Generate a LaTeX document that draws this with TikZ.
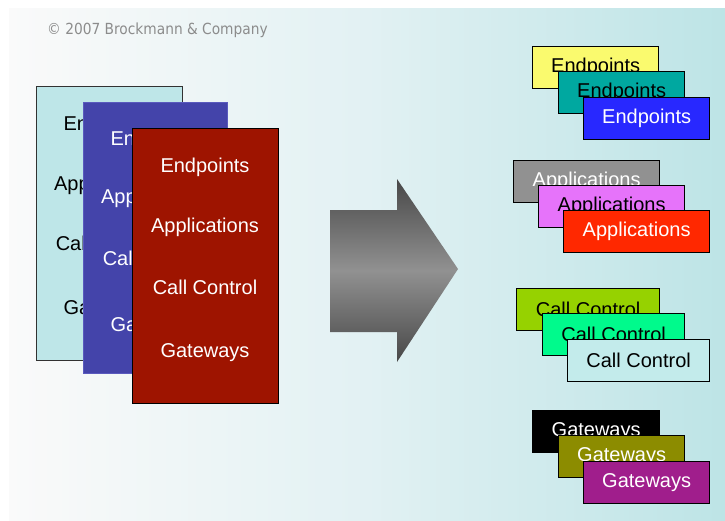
\documentclass[tikz,border=0pt]{standalone}
\usepackage{fontspec}
\setmainfont{Liberation Sans}
\newfontfamily\copyfont{DejaVu Sans Condensed}
\begin{document}
\begin{tikzpicture}[x=1pt,y=-1pt,
  bigbox/.style={rectangle,inner sep=0pt,anchor=north west,line width=1.3pt},
  smallbox/.style={rectangle,inner sep=0pt,anchor=north west,minimum width=126pt,minimum height=42pt,draw=black,line width=1.3pt,font=\fontsize{20}{24}\selectfont},
  lbl/.style={inner sep=0pt,font=\fontsize{20}{24}\selectfont}
]
\definecolor{bgR}{RGB}{189,228,230}
\definecolor{bgM}{RGB}{226,241,243}
\definecolor{bgL}{RGB}{250,250,250}
\definecolor{cyanbox}{RGB}{190,230,232}
\definecolor{bluebox}{RGB}{68,68,170}
\definecolor{redbox}{RGB}{158,20,0}
\definecolor{cYellow}{RGB}{250,250,110}
\definecolor{cTeal}{RGB}{0,168,160}
\definecolor{cBlue}{RGB}{40,40,255}
\definecolor{cGray}{RGB}{145,145,145}
\definecolor{cPink}{RGB}{230,115,250}
\definecolor{cRed}{RGB}{255,40,0}
\definecolor{cLime}{RGB}{150,210,0}
\definecolor{cSpring}{RGB}{0,250,140}
\definecolor{cPale}{RGB}{195,235,235}
\definecolor{cOlive}{RGB}{140,140,0}
\definecolor{cPurple}{RGB}{160,30,140}
\definecolor{copygray}{RGB}{140,140,140}
\definecolor{arrDark}{RGB}{72,72,72}
\definecolor{arrMid}{RGB}{145,145,145}
\useasboundingbox (0,0) rectangle (725,520);
\fill[white] (0,0) rectangle (725,520);
\shade[left color=bgL,right color=bgR,middle color=bgM] (9,8) rectangle (725,520);
\node[anchor=base west,inner sep=0pt,text=copygray,font=\copyfont\fontsize{15.3}{18}\selectfont] (copy) at (47,34) {© 2007 Brockmann \& Company};
% left stack
\node[bigbox,fill=cyanbox,draw={rgb,255:red,50;green,50;blue,50},minimum width=146pt,minimum height=274pt] (b1) at (36,86) {};
\node[lbl] (b1e) at (108,125) {Endpoints};
\node[lbl] (b1a) at (108,185) {Applications};
\node[lbl] (b1c) at (108,243) {Call Control};
\node[lbl] (b1g) at (108,310) {Gateways};
\node[bigbox,fill=bluebox,draw={rgb,255:red,90;green,90;blue,190},line width=0.6pt,minimum width=144pt,minimum height=271pt] (b2) at (83,102) {};
\node[lbl,text=white] (b2e) at (155,140) {Endpoints};
\node[lbl,text=white] (b2a) at (155,198) {Applications};
\node[lbl,text=white] (b2c) at (155,258) {Call Control};
\node[lbl,text=white] (b2g) at (155,327) {Gateways};
\node[bigbox,fill=redbox,draw=black,minimum width=146pt,minimum height=275pt] (b3) at (132,128) {};
\node[lbl,text=white] (b3e) at (205,167) {Endpoints};
\node[lbl,text=white] (b3a) at (205,227) {Applications};
\node[lbl,text=white] (b3c) at (205,287) {Call Control};
\node[lbl,text=white] (b3g) at (205,353) {Gateways};
% arrow
\shade[top color=arrDark,bottom color=arrDark,middle color=arrMid]
  (330,210) -- (397,210) -- (397,179) -- (458,269) -- (397,362) -- (397,332) -- (330,332) -- cycle;
% right stacks
\node[smallbox,fill=cYellow] (e1) at (532,46) {Endpoints};
\node[smallbox,fill=cTeal] (e2) at (558,71) {Endpoints};
\node[smallbox,fill=cBlue,text=white] (e3) at (583,97) {Endpoints};
\node[smallbox,fill=cGray,text=white,minimum width=146pt] (a1) at (513,160) {Applications};
\node[smallbox,fill=cPink,minimum width=146pt] (a2) at (538,185) {Applications};
\node[smallbox,fill=cRed,text=white,minimum width=146pt] (a3) at (563,210) {Applications};
\node[smallbox,fill=cLime,minimum width=143pt] (c1) at (516,288) {Call Control};
\node[smallbox,fill=cSpring,minimum width=142pt] (c2) at (542,313) {Call Control};
\node[smallbox,fill=cPale,minimum width=142pt] (c3) at (567,339) {Call Control};
\node[smallbox,fill=black,text=white,minimum width=127pt] (g1) at (532,410) {Gateways};
\node[smallbox,fill=cOlive,text=white] (g2) at (558,435) {Gateways};
\node[smallbox,fill=cPurple,text=white] (g3) at (583,461) {Gateways};
\end{tikzpicture}
\end{document}
